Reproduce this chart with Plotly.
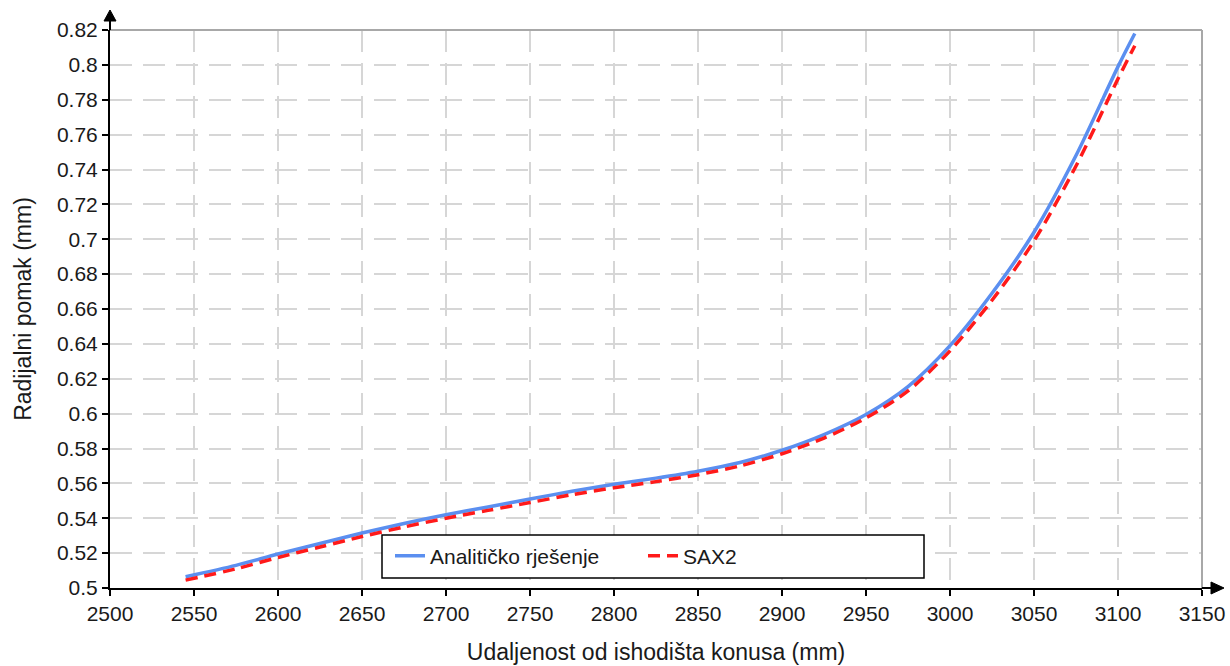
import plotly.graph_objects as go

# ---- data ----
x_vals = [2545, 2575, 2600, 2625, 2650, 2675, 2700, 2725, 2750, 2775, 2800, 2825,
          2850, 2875, 2900, 2925, 2950, 2975, 3000, 3025, 3050, 3075, 3100, 3110]
analiticko = [0.5065, 0.513, 0.5195, 0.5255, 0.5315, 0.537, 0.542, 0.5465, 0.551, 0.5555,
              0.5595, 0.563, 0.567, 0.572, 0.579, 0.588, 0.5995, 0.6155, 0.639, 0.669,
              0.704, 0.748, 0.799, 0.818]
sax2 = [0.5045, 0.511, 0.5175, 0.5235, 0.5295, 0.535, 0.540, 0.5445, 0.549, 0.5535,
        0.5575, 0.561, 0.565, 0.570, 0.577, 0.586, 0.5975, 0.613, 0.636, 0.665,
        0.699, 0.742, 0.792, 0.811]
x_ticks = [2500, 2550, 2600, 2650, 2700, 2750, 2800, 2850, 2900, 2950, 3000, 3050, 3100, 3150]
y_ticks = [0.5 + 0.02 * i for i in range(17)]
y_tick_text = ["0.5", "0.52", "0.54", "0.56", "0.58", "0.6", "0.62", "0.64", "0.66", "0.68",
               "0.7", "0.72", "0.74", "0.76", "0.78", "0.8", "0.82"]

W, H = 1230, 666
L, R, T, B = 110, 28, 30, 78
PW, PH = W - L - R, H - T - B


def px(xp):
    return (xp - L) / PW


def py(yp):
    return (H - B - yp) / PH


FONT = "Liberation Sans, Arial, sans-serif"
TXT = "#1a1a1a"
FS = 21
FT = 23

fig = go.Figure()
fig.add_trace(go.Scatter(x=x_vals, y=analiticko, mode="lines", name="Analitičko rješenje",
                         line=dict(color="#5b8ff0", width=3.5, shape="spline", smoothing=0.8)))
fig.add_trace(go.Scatter(x=x_vals, y=sax2, mode="lines", name="SAX2",
                         line=dict(color="#ff1a1a", width=3.5, dash="12px,7px",
                                   shape="spline", smoothing=0.8)))

grid = dict(showgrid=True, gridcolor="#d6d6d6", gridwidth=2, griddash="22px,11px")

fig.update_xaxes(range=[2500, 3150], tickvals=x_ticks, ticks="outside", ticklen=6,
                 tickwidth=1.5, tickcolor="black", showline=True, linecolor="black",
                 linewidth=2, zeroline=False, automargin=False,
                 tickfont=dict(family=FONT, size=FS, color=TXT),
                 title=dict(text="Udaljenost od ishodišta konusa (mm)",
                            font=dict(family=FONT, size=FT, color=TXT), standoff=20),
                 **grid)
fig.update_yaxes(range=[0.5, 0.82], tickvals=y_ticks, ticktext=y_tick_text, ticks="outside",
                 ticklen=6, tickwidth=1.5, tickcolor="black", showline=True, linecolor="black",
                 linewidth=2, zeroline=False, automargin=False,
                 tickfont=dict(family=FONT, size=FS, color=TXT),
                 title=dict(text="Radijalni pomak (mm)",
                            font=dict(family=FONT, size=FT, color=TXT), standoff=19),
                 **grid)

shapes = [
    # top and right gray borders
    dict(type="line", xref="paper", yref="paper", x0=0, x1=1, y0=1, y1=1,
         line=dict(color="#a8a8a8", width=2), layer="above"),
    dict(type="line", xref="paper", yref="paper", x0=1, x1=1, y0=0, y1=1,
         line=dict(color="#a8a8a8", width=2), layer="above"),
    # y-axis extension and arrow
    dict(type="line", xref="paper", yref="paper", x0=0, x1=0, y0=1, y1=py(20),
         line=dict(color="black", width=2), layer="above"),
    dict(type="path", xref="paper", yref="paper",
         path=f"M {px(L-6)} {py(21)} L {px(L+6)} {py(21)} L {px(L)} {py(10)} Z",
         fillcolor="black", line=dict(color="black", width=1), layer="above"),
    # x-axis extension and arrow
    dict(type="line", xref="paper", yref="paper", x0=1, x1=px(1212), y0=0, y1=0,
         line=dict(color="black", width=2), layer="above"),
    dict(type="path", xref="paper", yref="paper",
         path=f"M {px(1211)} {py(H-B-6)} L {px(1211)} {py(H-B+6)} L {px(1224)} {py(H-B)} Z",
         fillcolor="black", line=dict(color="black", width=1), layer="above"),
    # legend box
    dict(type="rect", xref="paper", yref="paper", x0=px(382), x1=px(924), y0=py(578), y1=py(535),
         fillcolor="white", line=dict(color="black", width=1.5), layer="above"),
]

fig.update_layout(
    width=W, height=H,
    margin=dict(l=L, r=R, t=T, b=B),
    plot_bgcolor="white", paper_bgcolor="white",
    shapes=shapes,
    showlegend=True,
    legend=dict(orientation="h", x=px(390), y=py(556), xanchor="left", yanchor="middle",
                bgcolor="rgba(0,0,0,0)", borderwidth=0, entrywidth=208,
                font=dict(family=FONT, size=FS, color=TXT)),
)

fig.write_html("out.html", config={"displayModeBar": False},
               post_script="document.body.style.margin='0';document.body.style.overflow='hidden';")
